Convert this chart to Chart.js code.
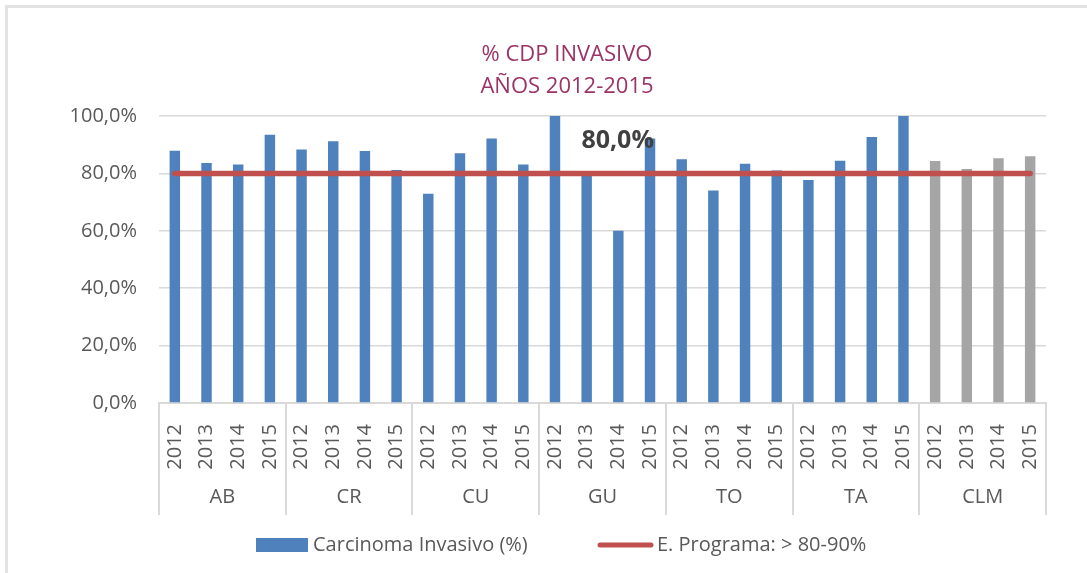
<!DOCTYPE html>
<html>
<head>
<meta charset="utf-8">
<script src="https://cdn.jsdelivr.net/npm/chart.js@4.4.1/dist/chart.umd.min.js"></script>
<style>
  html, body { margin: 0; padding: 0; background: #fff; }
  #wrap { position: relative; width: 1087px; height: 573px; }
  #wrap:before {
    content: ''; position: absolute; left: 5px; top: 5px; right: 0; bottom: 0;
    border-top: 3px solid #e3e3e3; border-left: 3px solid #e3e3e3; pointer-events: none;
  }
</style>
</head>
<body>
<div id="wrap"><canvas id="grafica" width="1087" height="573"></canvas></div>
<script>
const provincias = ['AB', 'CR', 'CU', 'GU', 'TO', 'TA', 'CLM'];
const anios = ['2012', '2013', '2014', '2015'];
const carcinomaInvasivo = [
  87.9, 83.6, 83.1, 93.5,
  88.3, 91.2, 87.8, 81.2,
  72.9, 87.0, 92.2, 83.1,
  100.0, 79.5, 60.0, 92.2,
  84.9, 74.0, 83.4, 81.0,
  77.7, 84.4, 92.7, 100.0,
  84.3, 81.5, 85.3, 86.0
];
const estandarPrograma = 80;
const ticksY = [0, 20, 40, 60, 80, 100];
const titulo = ['% CDP INVASIVO', 'AÑOS 2012-2015'];

const etiquetas = [];
provincias.forEach(function () { anios.forEach(function (a) { etiquetas.push(a); }); });
const coloresBarras = etiquetas.map(function (_, i) {
  return provincias[Math.floor(i / anios.length)] === 'CLM' ? '#a5a5a5' : '#4f81bd';
});
const lineaPrograma = etiquetas.map(function () { return estandarPrograma; });

const fmt = function (v) { return v.toFixed(1).replace('.', ',') + '%'; };
const FUENTE = "'Open Sans', 'Liberation Sans', sans-serif";
const GRIS = '#595959';

// titulo, grupos del eje x, etiqueta del estandar y leyenda
const extras = {
  id: 'extras',
  afterDraw: function (chart) {
    const ctx = chart.ctx;
    const xs = chart.scales.x;
    const area = chart.chartArea;
    ctx.save();

    ctx.fillStyle = '#9b3366';
    ctx.font = '22px ' + FUENTE;
    ctx.textAlign = 'center';
    ctx.textBaseline = 'middle';
    ctx.fillText(titulo[0], 567, 55);
    ctx.fillText(titulo[1], 567, 87);

    ctx.strokeStyle = '#d9d9d9';
    ctx.lineWidth = 2;
    for (let i = 0; i <= provincias.length; i++) {
      const x = Math.round(xs.getPixelForValue(i * anios.length - 0.5));
      ctx.beginPath();
      ctx.moveTo(x, area.bottom);
      ctx.lineTo(x, area.bottom + 112);
      ctx.stroke();
    }
    ctx.fillStyle = GRIS;
    ctx.font = '20px ' + FUENTE;
    provincias.forEach(function (p, i) {
      const x = xs.getPixelForValue(i * anios.length + 1.5);
      ctx.fillText(p, x, area.bottom + 94);
    });

    // etiqueta del estandar
    const pt = chart.getDatasetMeta(1).data[13];
    ctx.fillStyle = '#404040';
    ctx.font = 'bold 25px ' + FUENTE;
    ctx.fillText(fmt(estandarPrograma), pt.x + 31, pt.y - 33);

    // leyenda
    const ly = 545;
    ctx.fillStyle = '#4f81bd';
    ctx.fillRect(256, ly - 7, 52, 14);
    ctx.fillStyle = GRIS;
    ctx.font = '20px ' + FUENTE;
    ctx.textAlign = 'left';
    ctx.fillText(chart.data.datasets[0].label, 313, ly);
    ctx.strokeStyle = '#c0504d';
    ctx.lineWidth = 5;
    ctx.lineCap = 'round';
    ctx.beginPath();
    ctx.moveTo(600, ly);
    ctx.lineTo(651, ly);
    ctx.stroke();
    ctx.fillText(chart.data.datasets[1].label, 657, ly);
    ctx.restore();
  }
};

new Chart(document.getElementById('grafica').getContext('2d'), {
  type: 'bar',
  data: {
    labels: etiquetas,
    datasets: [{
      label: 'Carcinoma Invasivo (%)',
      data: carcinomaInvasivo,
      backgroundColor: coloresBarras,
      barPercentage: 0.33,
      categoryPercentage: 1,
      order: 1
    }, {
      type: 'line',
      label: 'E. Programa: > 80-90%',
      data: lineaPrograma,
      borderColor: '#c0504d',
      backgroundColor: '#c0504d',
      borderWidth: 5.5,
      borderCapStyle: 'round',
      pointRadius: 0,
      order: 0
    }]
  },
  options: {
    responsive: false,
    animation: false,
    layout: { padding: { left: 40, right: 41, top: 116, bottom: 58 } },
    plugins: {
      legend: { display: false },
      tooltip: { enabled: false },
      title: { display: false }
    },
    scales: {
      x: {
        grid: { display: false },
        border: { display: true, color: '#d9d9d9', width: 2 },
        ticks: {
          color: GRIS,
          font: { family: FUENTE, size: 20 },
          minRotation: 90,
          maxRotation: 90,
          autoSkip: false,
          padding: 13
        },
        afterFit: function (s) { s.height = 112; }
      },
      y: {
        min: 0,
        max: 100,
        afterBuildTicks: function (s) { s.ticks = ticksY.map(function (v) { return { value: v }; }); },
        grid: { color: '#d9d9d9', lineWidth: 1.5, drawTicks: false },
        border: { display: false },
        ticks: {
          color: GRIS,
          font: { family: FUENTE, size: 20 },
          padding: 22,
          callback: function (v) { return fmt(v); }
        },
        afterFit: function (s) { s.width = 119; }
      }
    }
  },
  plugins: [extras]
});
</script>
</body>
</html>
